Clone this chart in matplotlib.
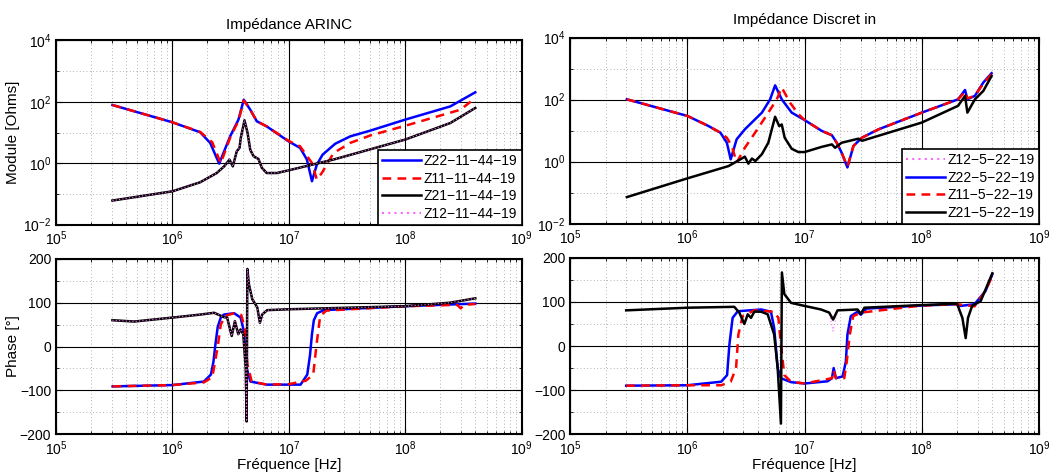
import numpy as np
import matplotlib.pyplot as plt
from matplotlib.ticker import LogLocator, MultipleLocator, NullFormatter

plt.rcParams['font.family'] = ['Liberation Sans', 'DejaVu Sans']
plt.rcParams['axes.unicode_minus'] = True

# ---- Impedance ARINC : module [Ohms] ----
f_z22_a = [3.05e5, 1e6, 1.73e6, 2.11e6, 2.52e6, 3.13e6, 3.69e6, 4.1e6, 4.66e6, 5.31e6,
           6.46e6, 1e7, 1.25e7, 1.43e7, 1.58e7, 1.74e7, 1.95e7, 2.5e7, 3.37e7, 5e7,
           1e8, 2.44e8, 4.0e8]
z22_a = [78.7, 21.5, 10.2, 4.57, 0.97, 7.5, 26.3, 117, 55.5, 23.2,
         15.8, 5.1, 3.16, 1.32, 0.26, 0.9, 1.9, 4.3, 7.5, 11.5,
         26.3, 70.8, 204]

f_z11_a = [3.05e5, 1e6, 1.73e6, 2.2e6, 2.6e6, 3.13e6, 3.69e6, 4.1e6, 4.66e6, 5.31e6,
           6.46e6, 1e7, 1.25e7, 1.58e7, 1.74e7, 1.92e7, 2.42e7, 3.37e7, 5e7, 1e8,
           2.97e8, 4.0e8]
z11_a = [78.7, 21.5, 10.5, 4.8, 1.0, 6.8, 24.0, 110, 55.5, 23.2,
         15.8, 5.3, 3.55, 1.02, 0.295, 0.48, 2.14, 4.6, 8.0, 16.6,
         55, 132]

f_z21_a = [3.05e5, 1e6, 1.73e6, 2.4e6, 2.78e6, 3.09e6, 3.3e6, 3.57e6, 3.77e6, 3.86e6,
           4.16e6, 4.42e6, 4.66e6, 4.97e6, 5.48e6, 5.86e6, 6.46e6, 7.89e6, 1e7, 2.42e7,
           1e8, 2.44e8, 4e8]
z21_a = [0.061, 0.122, 0.24, 0.48, 0.79, 1.31, 0.79, 2.45, 3.16, 6.6,
         25, 9.7, 2.75, 1.7, 1.38, 0.71, 0.48, 0.48, 0.59, 1.32,
         5.9, 20.4, 63]

# ---- Impedance Discret in : module [Ohms] ----
f_z22_d = [3.04e5, 1e6, 1.51e6, 1.91e6, 2.17e6, 2.34e6, 2.63e6, 3.09e6, 4.32e6, 5.08e6,
           5.6e6, 6.38e6, 7.76e6, 1e7, 1.4e7, 1.71e7, 1.88e7, 2.07e7, 2.32e7, 2.61e7,
           3.08e7, 4.27e7, 1e8, 2.04e8, 2.34e8, 2.45e8, 2.84e8, 3.35e8, 3.94e8]
z22_d = [102, 29.7, 14.1, 8.6, 4.07, 1.19, 5.25, 11, 38, 102,
         288, 102, 38, 21.9, 9.8, 7.1, 4.07, 1.95, 0.65, 3.2,
         5.9, 11, 38, 102, 204, 102, 132, 355, 708]

f_z11_d = [3.04e5, 1e6, 1.51e6, 1.91e6, 2.17e6, 2.39e6, 2.63e6, 3.09e6, 3.78e6, 4.9e6,
           5.79e6, 6.38e6, 7.52e6, 8.85e6, 1e7, 1.4e7, 1.71e7, 1.88e7, 2.07e7, 2.32e7,
           2.61e7, 3.08e7, 4.27e7, 1e8, 2.04e8, 2.34e8, 2.45e8, 2.84e8, 3.35e8, 3.94e8]
z11_d = [102, 29.7, 14.1, 8.6, 5.9, 3.2, 0.93, 2.8, 8.6, 38,
         102, 245, 79, 34, 21.9, 9.8, 7.1, 4.07, 1.95, 0.7,
         3.2, 5.9, 11, 38, 102, 180, 110, 132, 330, 660]

f_z21_d = [3.04e5, 1e6, 2.24e6, 2.91e6, 3.09e6, 3.31e6, 3.55e6, 3.8e6, 4.32e6, 4.9e6,
           5.6e6, 6.07e6, 6.38e6, 6.76e6, 7.76e6, 8.85e6, 1e7, 1.4e7, 1.71e7, 1.82e7,
           2.07e7, 2.88e7, 3.09e7, 1e8, 2.04e8, 2.34e8, 2.45e8, 2.84e8, 3.35e8, 3.94e8]
z21_d = [0.072, 0.29, 0.72, 1.26, 1.45, 0.86, 1.26, 1.05, 1.74, 4.07,
         28, 14, 15.8, 5.9, 2.6, 2.04, 2.04, 3.0, 3.6, 2.8,
         4.07, 5.5, 4.7, 18.2, 63, 132, 38, 102, 190, 575]

# ---- Impedance ARINC : phase [deg] ----
f_p22_a = [3.06e5, 1e6, 1.86e6, 2.14e6, 2.25e6, 2.34e6, 2.45e6, 2.6e6, 2.77e6, 3.39e6,
           3.85e6, 4.11e6, 4.34e6, 4.68e6, 6.46e6, 1.26e7, 1.44e7, 1.52e7, 1.58e7, 1.64e7,
           1.75e7, 2e7, 1e8, 4e8]
p22_a = [-91, -88, -80, -64, -35, 5, 45, 66, 73, 76,
         66, 35, -49, -80, -87, -87, -64, -20, 28, 60,
         76, 83, 92, 98]

f_p11_a = [3.06e5, 1e6, 1.86e6, 2.2e6, 2.45e6, 2.6e6, 2.85e6, 3.39e6, 3.9e6, 4.2e6,
           4.4e6, 4.8e6, 6.46e6, 1e7, 1.4e7, 1.62e7, 1.74e7, 1.86e7, 2.1e7, 1e8,
           2.8e8, 3.0e8, 3.2e8, 4e8]
p11_a = [-91, -88, -82, -70, 0, 50, 70, 76, 72, 40,
         -40, -80, -87, -86, -78, -64, 10, 70, 82, 92,
         95, 87, 95, 97]

f_p21_a = [3.05e5, 4.69e5, 1e6, 1.75e6, 2.28e6, 2.77e6, 2.95e6, 3.23e6, 3.44e6, 3.68e6,
           3.85e6, 4.06e6, 4.26e6, 4.34e6, 4.4e6, 4.54e6, 4.85e6, 5.36e6, 5.64e6, 5.9e6,
           6.52e6, 1e7, 1e8, 2.43e8, 4e8]
p21_a = [60, 57, 66, 73, 77, 67, 66, 24, 58, 28,
         39, 28, -49, -171, 177, 142, 108, 89, 54, 73,
         83, 85, 92, 100, 110]

# ---- Impedance Discret in : phase [deg] ----
f_p22_d = [3.0e5, 1e6, 1.94e6, 2.18e6, 2.28e6, 2.43e6, 2.69e6, 4.25e6, 5.16e6, 5.5e6,
           5.89e6, 6.28e6, 7.66e6, 1e7, 1.57e7, 1.71e7, 1.77e7, 1.85e7, 2.11e7, 2.25e7,
           2.32e7, 2.48e7, 2.83e7, 3.02e7, 3.37e7, 1e8, 2e8, 2.14e8, 2.82e8, 3.5e8, 4e8]
p22_d = [-90, -89, -81, -66, 3, 64, 79, 83, 78, 41,
         -50, -73, -82, -85, -80, -73, -50, -73, -69, -35,
         26, 68, 78, 71, 85, 92, 95, 91, 95, 125, 163]

f_p11_d = [3.0e5, 1e6, 1.94e6, 2.34e6, 2.6e6, 2.72e6, 2.96e6, 3.72e6, 5.5e6, 5.97e6,
           6.28e6, 6.71e6, 7.66e6, 1e7, 1.71e7, 1.77e7, 1.85e7, 2.18e7, 2.29e7, 2.43e7,
           2.6e7, 3.06e7, 1e8, 2e8, 2.82e8, 3.5e8, 4e8]
p11_d = [-90, -89, -89, -81, -50, 26, 68, 81, 78, 64,
         3, -66, -81, -85, -73, -55, -73, -73, -35, 26,
         68, 76, 92, 95, 90, 125, 160]

f_p21_d = [3.0e5, 1e6, 2.51e6, 2.77e6, 3.06e6, 3.27e6, 3.49e6, 3.72e6, 4.25e6, 4.84e6,
           5.5e6, 5.89e6, 6.28e6, 6.4e6, 6.71e6, 7.66e6, 1e7, 1.38e7, 1.62e7, 1.75e7,
           1.91e7, 2.83e7, 3.02e7, 3.24e7, 1e8, 2e8, 2.22e8, 2.37e8, 2.48e8, 2.69e8,
           3.18e8, 4e8]
p21_d = [81, 87, 89, 76, 50, 72, 64, 78, 78, 72,
         26, -50, -176, 167, 118, 98, 91, 83, 76, 60,
         81, 83, 73, 87, 93, 96, 64, 18, 64, 91,
         102, 165]
p12_d = [81, 87, 89, 76, 50, 72, 64, 78, 78, 72,
         26, -50, -176, 167, 118, 98, 91, 83, 76, 34,
         81, 83, 73, 87, 93, 96, 64, 18, 64, 91,
         102, 165]

lab_a = ['Z22\u221211\u221244\u221219', 'Z11\u221211\u221244\u221219',
         'Z21\u221211\u221244\u221219', 'Z12\u221211\u221244\u221219']
lab_d = ['Z12\u22125\u221222\u221219', 'Z22\u22125\u221222\u221219',
         'Z11\u22125\u221222\u221219', 'Z21\u22125\u221222\u221219']

blue = dict(color='#0000ff', lw=1.8, ls='-')
red = dict(color='#ff0000', lw=1.8, ls=(0, (3.5, 2.5)))
black = dict(color='black', lw=1.8, ls='-')
pink = dict(color='#ff66ff', lw=0.8, ls=(0, (1, 2)))

fig = plt.figure(figsize=(10.58, 4.75), dpi=100)
ax_ma = fig.add_axes([0.053, 0.527, 0.440, 0.388])
ax_md = fig.add_axes([0.539, 0.529, 0.443, 0.392])
ax_pa = fig.add_axes([0.053, 0.086, 0.440, 0.369])
ax_pd = fig.add_axes([0.539, 0.086, 0.443, 0.371])


def style(ax, mod):
    ax.set_xscale('log')
    ax.set_xlim(1e5, 1e9)
    ax.xaxis.set_major_locator(LogLocator(base=10, numticks=10))
    ax.xaxis.set_minor_locator(LogLocator(base=10, subs=np.arange(2, 10), numticks=20))
    ax.xaxis.set_minor_formatter(NullFormatter())
    if mod:
        ax.set_yscale('log')
        ax.set_ylim(1e-2, 1e4)
        ax.yaxis.set_major_locator(LogLocator(base=100, numticks=10))
        ax.yaxis.set_minor_locator(LogLocator(base=10, numticks=10))
        ax.yaxis.set_minor_formatter(NullFormatter())
    else:
        ax.set_ylim(-200, 200)
        ax.yaxis.set_major_locator(MultipleLocator(100))
        ax.yaxis.set_minor_locator(MultipleLocator(50))
    ax.grid(True, which='major', color='black', lw=0.8, ls='-')
    ax.grid(True, which='minor', color='#999999', lw=0.6, ls=(0, (1, 3)))
    ax.set_axisbelow(True)
    ax.tick_params(which='both', direction='in', top=True, right=True, labelsize=10)
    ax.tick_params(which='major', length=4)
    ax.tick_params(which='minor', length=2)
    for s in ax.spines.values():
        s.set_linewidth(1.5)


for ax, mod in [(ax_ma, True), (ax_md, True), (ax_pa, False), (ax_pd, False)]:
    style(ax, mod)

# ARINC module
ax_ma.plot(f_z22_a, z22_a, label=lab_a[0], **blue)
ax_ma.plot(f_z11_a, z11_a, label=lab_a[1], **red)
ax_ma.plot(f_z21_a, z21_a, label=lab_a[2], **black)
ax_ma.plot(f_z21_a, z21_a, label=lab_a[3], **pink)

# Discret in module
ax_md.plot(f_z21_d, z21_d, label=lab_d[0], **pink)
ax_md.plot(f_z22_d, z22_d, label=lab_d[1], **blue)
ax_md.plot(f_z11_d, z11_d, label=lab_d[2], **red)
ax_md.plot(f_z21_d, z21_d, label=lab_d[3], **black)

# ARINC phase
ax_pa.plot(f_p22_a, p22_a, **blue)
ax_pa.plot(f_p11_a, p11_a, **red)
ax_pa.plot(f_p21_a, p21_a, **black)
ax_pa.plot(f_p21_a, p21_a, **pink)

# Discret in phase
ax_pd.plot(f_p21_d, p12_d, **pink)
ax_pd.plot(f_p22_d, p22_d, **blue)
ax_pd.plot(f_p11_d, p11_d, **red)
ax_pd.plot(f_p21_d, p21_d, **black)

for ax in (ax_ma, ax_md):
    leg = ax.legend(loc='lower right', fontsize=10, frameon=True, fancybox=False,
                    borderaxespad=0.0, handlelength=2.8, handletextpad=0.2,
                    labelspacing=0.25, borderpad=0.3)
    leg.get_frame().set_edgecolor('black')
    leg.get_frame().set_linewidth(1.2)
    leg.get_frame().set_alpha(1)
    for h in leg.get_lines():
        if h.get_color() == '#ff66ff':
            h.set_linewidth(1.5)

ax_ma.set_title('Impédance ARINC', fontsize=11, pad=8)
ax_md.set_title('Impédance Discret in', fontsize=11, pad=10)
ax_ma.set_ylabel('Module [Ohms]', fontsize=11, labelpad=2)
ax_pa.set_ylabel('Phase [°]', fontsize=11, labelpad=0)
ax_pa.set_xlabel('Fréquence [Hz]', fontsize=11, labelpad=0)
ax_pd.set_xlabel('Fréquence [Hz]', fontsize=11, labelpad=0)

fig.savefig('out.png', dpi=100)
